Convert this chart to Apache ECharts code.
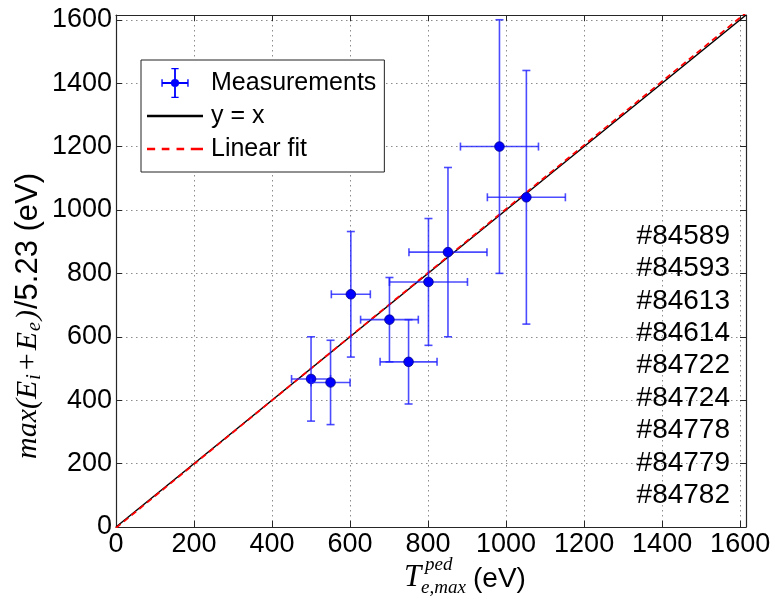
<!DOCTYPE html>
<html><head><meta charset="utf-8">
<script src="https://cdn.jsdelivr.net/npm/echarts@6/dist/echarts.min.js"></script>
<style>html,body{margin:0;padding:0;background:#fff}#c{width:775px;height:600px}</style>
</head><body><div id="c"></div>
<script>
// ---- data ----
const xValues = [500, 550, 602, 701, 750, 801, 851, 983, 1052];
const yValues = [467, 456, 734, 654, 521, 773, 867, 1200, 1040];
const xErrors = [50, 50, 50, 74, 73, 100, 100, 100, 100];
const yErrors = [133, 133, 198, 133, 133, 200, 267, 400, 400];
const shotLabels = ['#84589', '#84593', '#84613', '#84614', '#84722', '#84724', '#84778', '#84779', '#84782'];
const tickValues = [0, 200, 400, 600, 800, 1000, 1200, 1400, 1600];
const axisMin = 0;
const axisMax = 1615;
const identityLine = [[0, 0], [1615, 1615]];
const fitLine = [[0, -3], [1615, 1622]];
const seriesNames = ['Measurements', 'y = x', 'Linear fit'];

// ---- drawing ----
const SANS = '"Liberation Sans", Arial, sans-serif';
const SERIF = '"Liberation Serif", "Times New Roman", serif';
const chart = echarts.init(document.getElementById('c'), null, {renderer: 'canvas'});

const cv = document.createElement('canvas').getContext('2d');
function tw(t, f) { cv.font = f; return cv.measureText(t).width; }

function axisCommon(pos, showLabels) {
  return {
    type: 'value', position: pos, min: axisMin, max: axisMax, interval: 200,
    axisLine: {show: true, onZero: false, lineStyle: {color: '#262626', width: 1.2}},
    axisTick: {show: true, inside: true, length: 6, lineStyle: {color: '#262626', width: 1}},
    axisLabel: {
      show: showLabels, fontSize: 27, fontFamily: SANS, color: '#000', margin: 4,
      showMaxLabel: false,
      formatter: v => (tickValues.indexOf(v) >= 0 ? String(v) : '')
    },
    splitLine: {show: showLabels, lineStyle: {color: '#8c8c8c', width: 1, type: [1.5, 3.5]}}
  };
}

// y-axis title (rotated, mixed fonts), reading bottom to top starting near y = 459
const yParts = [
  {t: 'max(E', f: 'italic 30px ' + SERIF, dy: 0, gap: 1},
  {t: 'i', f: 'italic 20px ' + SERIF, dy: 7, gap: 4},
  {t: '+', f: '30px ' + SERIF, dy: 0, gap: 3},
  {t: 'E', f: 'italic 30px ' + SERIF, dy: 0, gap: 1},
  {t: 'e', f: 'italic 20px ' + SERIF, dy: 7, gap: 2},
  {t: ')', f: 'italic 30px ' + SERIF, dy: 0, gap: 1},
  {t: '/5.23 (eV)', f: '31px ' + SANS, dy: 0, gap: 0}
];
let d = 0;
const yTitleChildren = yParts.map(p => {
  const el = {type: 'text', x: d, y: p.dy,
    style: {text: p.t, font: p.f, fill: '#000', align: 'left', verticalAlign: 'middle',
            textAlign: 'left', textVerticalAlign: 'middle'}};
  d += tw(p.t, p.f) + p.gap;
  return el;
});

const graphics = [
  {type: 'group', x: 28, y: 459, rotation: Math.PI / 2, children: yTitleChildren},
  {type: 'text', x: 404, y: 578, style: {text: 'T', font: 'italic 31px ' + SERIF, fill: '#000', verticalAlign: 'middle', textVerticalAlign: 'middle'}},
  {type: 'text', x: 425, y: 565, style: {text: 'ped', font: 'italic 19px ' + SERIF, fill: '#000', verticalAlign: 'middle', textVerticalAlign: 'middle'}},
  {type: 'text', x: 421, y: 588, style: {text: 'e,max', font: 'italic 19px ' + SERIF, fill: '#000', verticalAlign: 'middle', textVerticalAlign: 'middle'}},
  {type: 'text', x: 473, y: 579, style: {text: '(eV)', font: '28px ' + SANS, fill: '#000', verticalAlign: 'middle', textVerticalAlign: 'middle'}}
];
shotLabels.forEach((s, i) => {
  graphics.push({type: 'text', x: 730, y: 236 + 32.4 * i, z: 10,
    style: {text: s, font: '28px ' + SANS, fill: '#000', align: 'right', verticalAlign: 'middle',
            textAlign: 'right', textVerticalAlign: 'middle'}});
});

const errIcon = 'path://M0,15.5L30,15.5L30,17.5L0,17.5Z M14,0L16,0L16,33L14,33Z M11,0L19,0L19,1.5L11,1.5Z M11,31.5L19,31.5L19,33L11,33Z M0,12.5L1.5,12.5L1.5,20.5L0,20.5Z M28.5,12.5L30,12.5L30,20.5L28.5,20.5Z M10.5,16.5A4.5,4.5 0 1,1 19.5,16.5A4.5,4.5 0 1,1 10.5,16.5Z';
const solidIcon = 'path://M0,0L55,0L55,2.6L0,2.6Z';
const dashIcon = 'path://M0,0L8,0L8,2.6L0,2.6Z M14.5,0L22,0L22,2.6L14.5,2.6Z M29,0L36.5,0L36.5,2.6L29,2.6Z M43,0L55,0L55,2.6L43,2.6Z';

const option = {
  animation: false,
  backgroundColor: '#fff',
  grid: {left: 116, right: 29, top: 15, bottom: 73, containLabel: false},
  xAxis: [axisCommon('bottom', true), axisCommon('top', false)],
  yAxis: [axisCommon('left', true), axisCommon('right', false)],
  legend: {
    orient: 'vertical', left: 141, top: 60, padding: [8, 8, 8, 6], itemGap: 3,
    itemWidth: 56, itemHeight: 30, selectedMode: false,
    backgroundColor: '#fff', borderColor: '#222', borderWidth: 1, borderRadius: 0,
    textStyle: {fontSize: 25, fontFamily: SANS, color: '#000', lineHeight: 30, padding: [0, 0, 0, 3]},
    data: [
      {name: seriesNames[0], icon: errIcon},
      {name: seriesNames[1], icon: solidIcon, itemStyle: {color: '#000'}},
      {name: seriesNames[2], icon: dashIcon, itemStyle: {color: '#ff0000'}}
    ]
  },
  graphic: graphics,
  series: [
    {
      name: seriesNames[1], type: 'line', data: identityLine, symbol: 'none', z: 2,
      lineStyle: {color: '#000', width: 1.5}, itemStyle: {color: '#000'}
    },
    {
      name: seriesNames[2], type: 'line', data: fitLine, symbol: 'none', z: 3,
      lineStyle: {color: '#ff0000', width: 1.8, type: [6, 4]}, itemStyle: {color: '#ff0000'}
    },
    {
      name: seriesNames[0], type: 'custom', z: 5,
      data: xValues.map((x, i) => [x, yValues[i], xErrors[i], yErrors[i]]),
      encode: {x: 0, y: 1},
      itemStyle: {color: '#0000ff'},
      renderItem: function (params, api) {
        const x = api.value(0), y = api.value(1), ex = api.value(2), ey = api.value(3);
        const c = api.coord([x, y]);
        const l = api.coord([x - ex, y]);
        const r = api.coord([x + ex, y]);
        const t = api.coord([x, y + ey]);
        const b = api.coord([x, y - ey]);
        const cap = 4;
        const st = {stroke: 'rgba(30,30,255,0.8)', lineWidth: 1.6, fill: null};
        return {
          type: 'group', children: [
            {type: 'line', shape: {x1: l[0], y1: l[1], x2: r[0], y2: r[1]}, style: st},
            {type: 'line', shape: {x1: t[0], y1: t[1], x2: b[0], y2: b[1]}, style: st},
            {type: 'line', shape: {x1: l[0], y1: l[1] - cap, x2: l[0], y2: l[1] + cap}, style: st},
            {type: 'line', shape: {x1: r[0], y1: r[1] - cap, x2: r[0], y2: r[1] + cap}, style: st},
            {type: 'line', shape: {x1: t[0] - cap, y1: t[1], x2: t[0] + cap, y2: t[1]}, style: st},
            {type: 'line', shape: {x1: b[0] - cap, y1: b[1], x2: b[0] + cap, y2: b[1]}, style: st},
            {type: 'circle', shape: {cx: c[0], cy: c[1], r: 4.8}, style: {fill: '#0000ff', stroke: '#00008b', lineWidth: 0.8}}
          ]
        };
      }
    }
  ]
};
chart.setOption(option);
</script>
</body></html>
